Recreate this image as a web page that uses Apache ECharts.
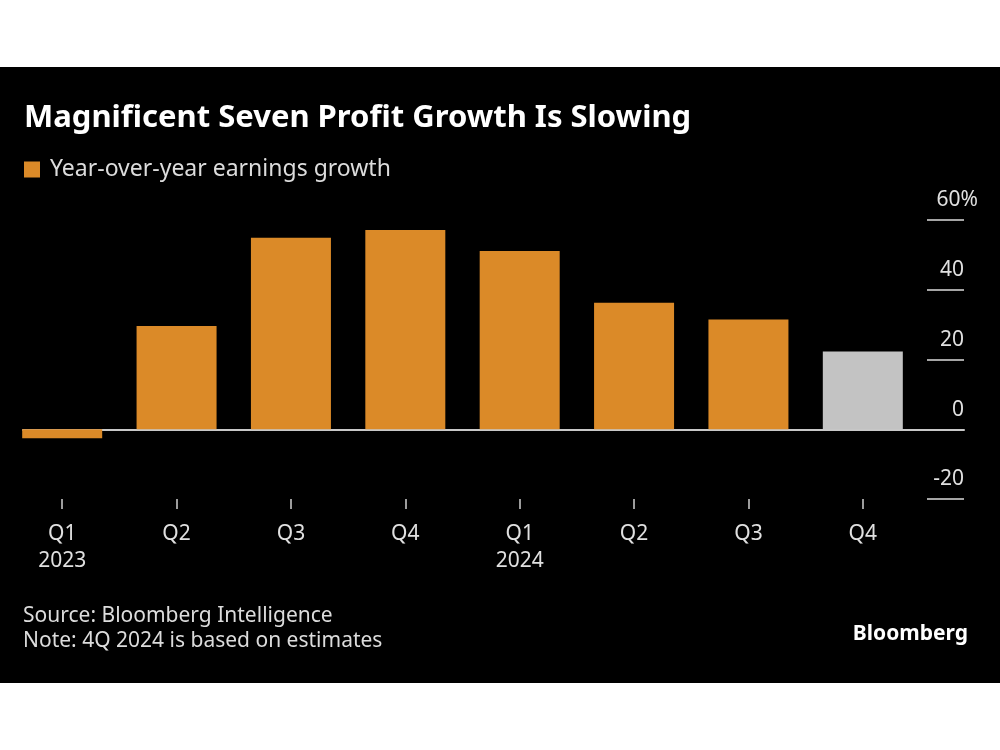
<!DOCTYPE html>
<html>
<head>
<meta charset="utf-8">
<script src="https://cdn.jsdelivr.net/npm/echarts@6/dist/echarts.min.js"></script>
<style>
  html, body { margin: 0; padding: 0; background: #ffffff; }
  #chart { position: absolute; left: 0; top: 67px; width: 1000px; height: 616px; background: #000000; }
</style>
</head>
<body>
<div id="chart"></div>
<script>
const quarters = ['Q1\n2023', 'Q2', 'Q3', 'Q4', 'Q1\n2024', 'Q2', 'Q3', 'Q4'];
const growth = [-2.6, 29.6, 54.9, 57.1, 51.1, 36.3, 31.5, 22.3];
const isEstimate = [false, false, false, false, false, false, false, true];
const yTicks = [-20, 0, 20, 40, 60];
const seriesName = 'Year-over-year earnings growth';

const ORANGE = '#db8a28';
const GRAY = '#c3c3c3';
const FONT = '"Noto Sans", sans-serif';
const LABEL = '#e0e0e0';

const chart = echarts.init(document.getElementById('chart'), null, { renderer: 'canvas' });

const gridTop = 153, gridBottom = 184;
const yMin = yTicks[0], yMax = yTicks[yTicks.length - 1], yStep = yTicks[1] - yTicks[0];

const option = {
  backgroundColor: '#000000',
  animation: false,
  textStyle: { fontFamily: FONT },
  title: [
    { text: 'Magnificent Seven Profit Growth Is Slowing', left: 19, top: 31,
      textStyle: { color: '#ffffff', fontSize: 31, fontWeight: 'bold', fontFamily: FONT } },
    { text: 'Source: Bloomberg Intelligence\nNote: 4Q 2024 is based on estimates', left: 18, top: 532,
      textStyle: { color: '#dcdcdc', fontSize: 21, fontWeight: 'normal', lineHeight: 25, fontFamily: FONT } },
    { text: 'Bloomberg', right: 27, top: 552,
      textStyle: { color: '#ffffff', fontSize: 21, fontWeight: 'bold', fontFamily: FONT } }
  ],
  legend: {
    left: 19, top: 86,
    icon: 'rect', itemWidth: 16, itemHeight: 16, itemGap: 10,
    textStyle: { color: '#dcdcdc', fontSize: 23, fontFamily: FONT, padding: [0, 0, 0, 5] },
    data: [seriesName]
  },
  grid: [
    { left: 5, right: 80, top: gridTop, bottom: gridBottom },
    { left: 927, width: 37, top: gridTop, bottom: gridBottom },
    { left: 23, right: 36, top: gridTop, bottom: gridBottom }
  ],
  xAxis: [
    { type: 'category', gridIndex: 0, data: quarters,
      axisLine: { show: false, onZero: false },
      axisTick: { show: true, alignWithLabel: true, length: 10, lineStyle: { color: '#cfcfcf', width: 1.5 } },
      axisLabel: { color: LABEL, fontSize: 21, lineHeight: 27, margin: 22, interval: 0, fontFamily: FONT },
      splitLine: { show: false } },
    { type: 'value', gridIndex: 1, min: 0, max: 1, show: false },
    { type: 'value', gridIndex: 2, min: 0, max: 1,
      axisLine: { show: true, onZero: true, lineStyle: { color: '#c8c8c8', width: 2 } },
      axisTick: { show: false }, axisLabel: { show: false }, splitLine: { show: false }, z: 0 }
  ],
  yAxis: [
    { type: 'value', gridIndex: 0, min: yMin, max: yMax, interval: yStep, show: false },
    { type: 'value', gridIndex: 1, min: yMin, max: yMax, interval: yStep, position: 'right',
      axisLine: { show: false }, axisTick: { show: false },
      splitLine: { show: true, lineStyle: { color: '#dddddd', width: 1.5 } },
      axisLabel: { inside: true, margin: 0, color: LABEL, fontSize: 21, fontFamily: FONT,
        verticalAlign: 'bottom', padding: [0, 0, 9, 0],
        formatter: function (v) { return v === yMax ? '' : String(v); } } },
    { type: 'value', gridIndex: 1, min: yMin, max: yMax, interval: yStep, position: 'right',
      axisLine: { show: false }, axisTick: { show: false }, splitLine: { show: false },
      axisLabel: { inside: true, margin: -14, color: LABEL, fontSize: 21, fontFamily: FONT,
        verticalAlign: 'bottom', padding: [0, 0, 9, 0],
        formatter: function (v) { return v === yMax ? v + '%' : ''; } } },
    { type: 'value', gridIndex: 2, min: yMin, max: yMax, show: false }
  ],
  series: [{
    name: seriesName,
    type: 'bar',
    xAxisIndex: 0, yAxisIndex: 0,
    barWidth: 80,
    itemStyle: { color: ORANGE },
    z: 5,
    data: growth.map((v, i) => ({ value: v, itemStyle: { color: isEstimate[i] ? GRAY : ORANGE } }))
  }]
};
chart.setOption(option);
</script>
</body>
</html>
